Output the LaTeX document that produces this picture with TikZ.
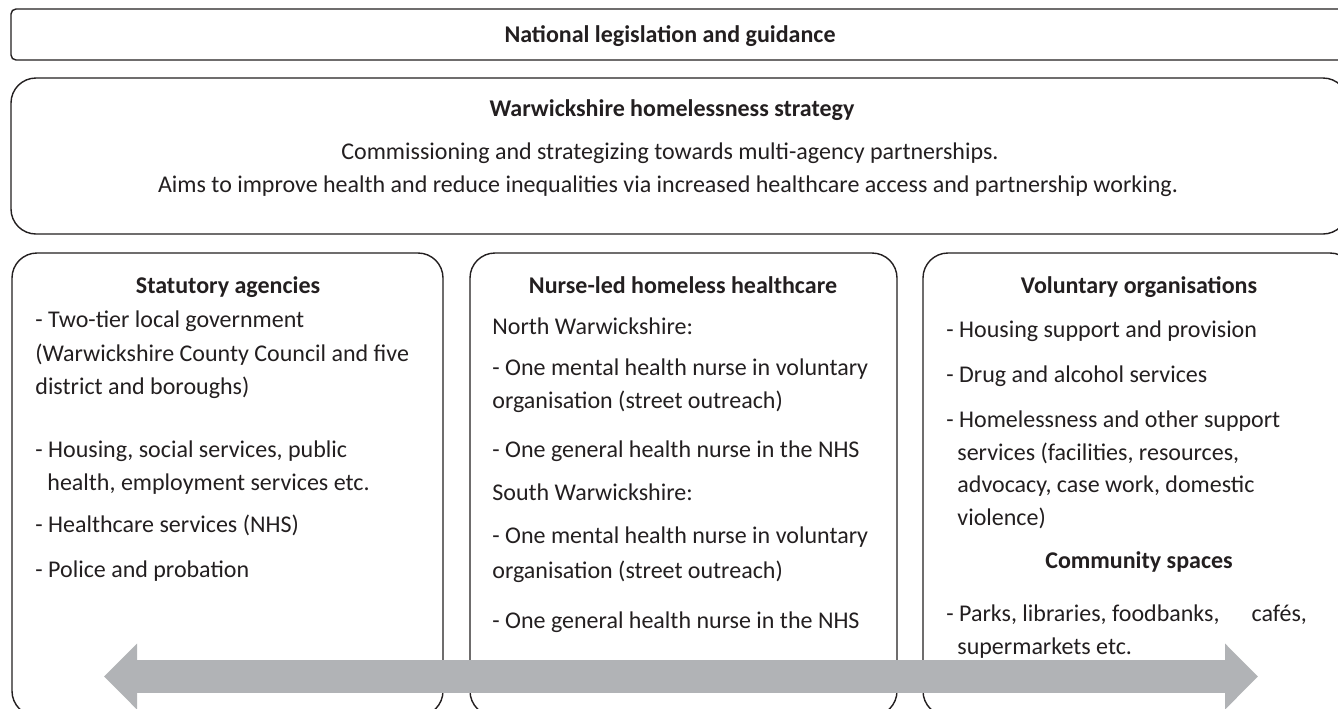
\documentclass[tikz,border=0pt]{standalone}
\usepackage{fontspec}
\setmainfont{Carlito}
\usetikzlibrary{arrows.meta,positioning}

\definecolor{inkgray}{HTML}{231F20}
\definecolor{arrowgray}{HTML}{B1B3B6}
\newcommand{\diagsize}{\fontsize{12pt}{16.5pt}\selectfont}

\tikzset{
  panel/.style={rectangle, draw=inkgray, line width=0.7pt, fill=white,
    anchor=north west, inner sep=0pt, outer sep=0pt},
  heading/.style={font=\diagsize\bfseries, text=inkgray, anchor=base, inner sep=0pt},
  bodyline/.style={font=\diagsize, text=inkgray, anchor=base west, inner sep=0pt},
  bodycentre/.style={font=\diagsize, text=inkgray, anchor=base, inner sep=0pt},
  twoway/.style={draw=arrowgray, line width=16.5pt,
    {Triangle[length=16.5pt,width=32pt]}-{Triangle[length=16.5pt,width=32pt]}}
}

\begin{document}
\begin{tikzpicture}[x=0.5pt,y=-0.5pt]

  \useasboundingbox (0,0) rectangle (1338,708);
  \fill[white] (0,0) rectangle (1338,708);
  \clip (0,0) rectangle (1338,708);

  % frames
  \node[panel, rounded corners=2.5pt, minimum width=667pt, minimum height=25.5pt] (national) at (11,9) {};
  \node[panel, rounded corners=12.5pt, minimum width=668.5pt, minimum height=78pt] (strategy) at (11,78) {};
  \node[panel, rounded corners=12.5pt, minimum width=215.5pt, minimum height=231.5pt] (statutory) at (12,253) {};
  \node[panel, rounded corners=12.5pt, minimum width=213.5pt, minimum height=231.5pt] (nurse) at (470,253) {};
  \node[panel, rounded corners=12.5pt, minimum width=216pt, minimum height=231.5pt] (voluntary) at (923,253) {};

  % top texts
  \node[heading] (nationaltitle) at (670,42) {National legislation and guidance};
  \node[heading] (strategytitle) at (672,116) {Warwickshire homelessness strategy};
  \node[bodycentre] (aimone) at (670,159) {Commissioning and strategizing towards multi-agency partnerships.};
  \node[bodycentre] (aimtwo) at (668,192) {Aims to improve health and reduce inequalities via increased healthcare access and partnership working.};

  % statutory agencies
  \node[heading] (statutorytitle) at (228,293) {Statutory agencies};
  \foreach \x/\y/\t [count=\i] in {35/327/{- Two-tier local government},
      35/361/{(Warwickshire County Council and five}, 35/394/{district and boroughs)},
      35/457/{- Housing, social services, public}, 47/490/{health, employment services etc.},
      35/532/{- Healthcare services (NHS)}, 35/577/{- Police and probation}}
    \node[bodyline] (stat\i) at (\x,\y) {\t};

  % nurse-led care
  \node[heading] (nursetitle) at (683,293) {Nurse-led homeless healthcare};
  \foreach \y/\t [count=\i] in {334/{North Warwickshire:},
      375/{- One mental health nurse in voluntary}, 408/{organisation (street outreach)},
      457/{- One general health nurse in the NHS}, 500/{South Warwickshire:},
      543/{- One mental health nurse in voluntary}, 578/{organisation (street outreach)},
      628/{- One general health nurse in the NHS}}
    \node[bodyline] (nurse\i) at (492,\y) {\t};

  % voluntary organisations
  \node[heading] (voluntarytitle) at (1139,293) {Voluntary organisations};
  \foreach \x/\y/\t [count=\i] in {946/337/{- Housing support and provision},
      946/382/{- Drug and alcohol services}, 946/427/{- Homelessness and other support},
      957/460/{services (facilities, resources,}, 957/492/{advocacy, case work, domestic},
      957/525/{violence)}}
    \node[bodyline] (vol\i) at (\x,\y) {\t};
  \node[heading] (communitytitle) at (1139,568) {Community spaces};
  \node[bodyline] (comm1) at (946,621) {- Parks, libraries, foodbanks,\hspace{16pt}cafés,};
  \node[bodyline] (comm2) at (957,654) {supermarkets etc.};

  % two-way arrow
  \coordinate (leftend) at (104,676.5);
  \coordinate (rightend) at (1258,676.5);
  \draw[twoway] (leftend) -- (rightend);

\end{tikzpicture}
\end{document}
